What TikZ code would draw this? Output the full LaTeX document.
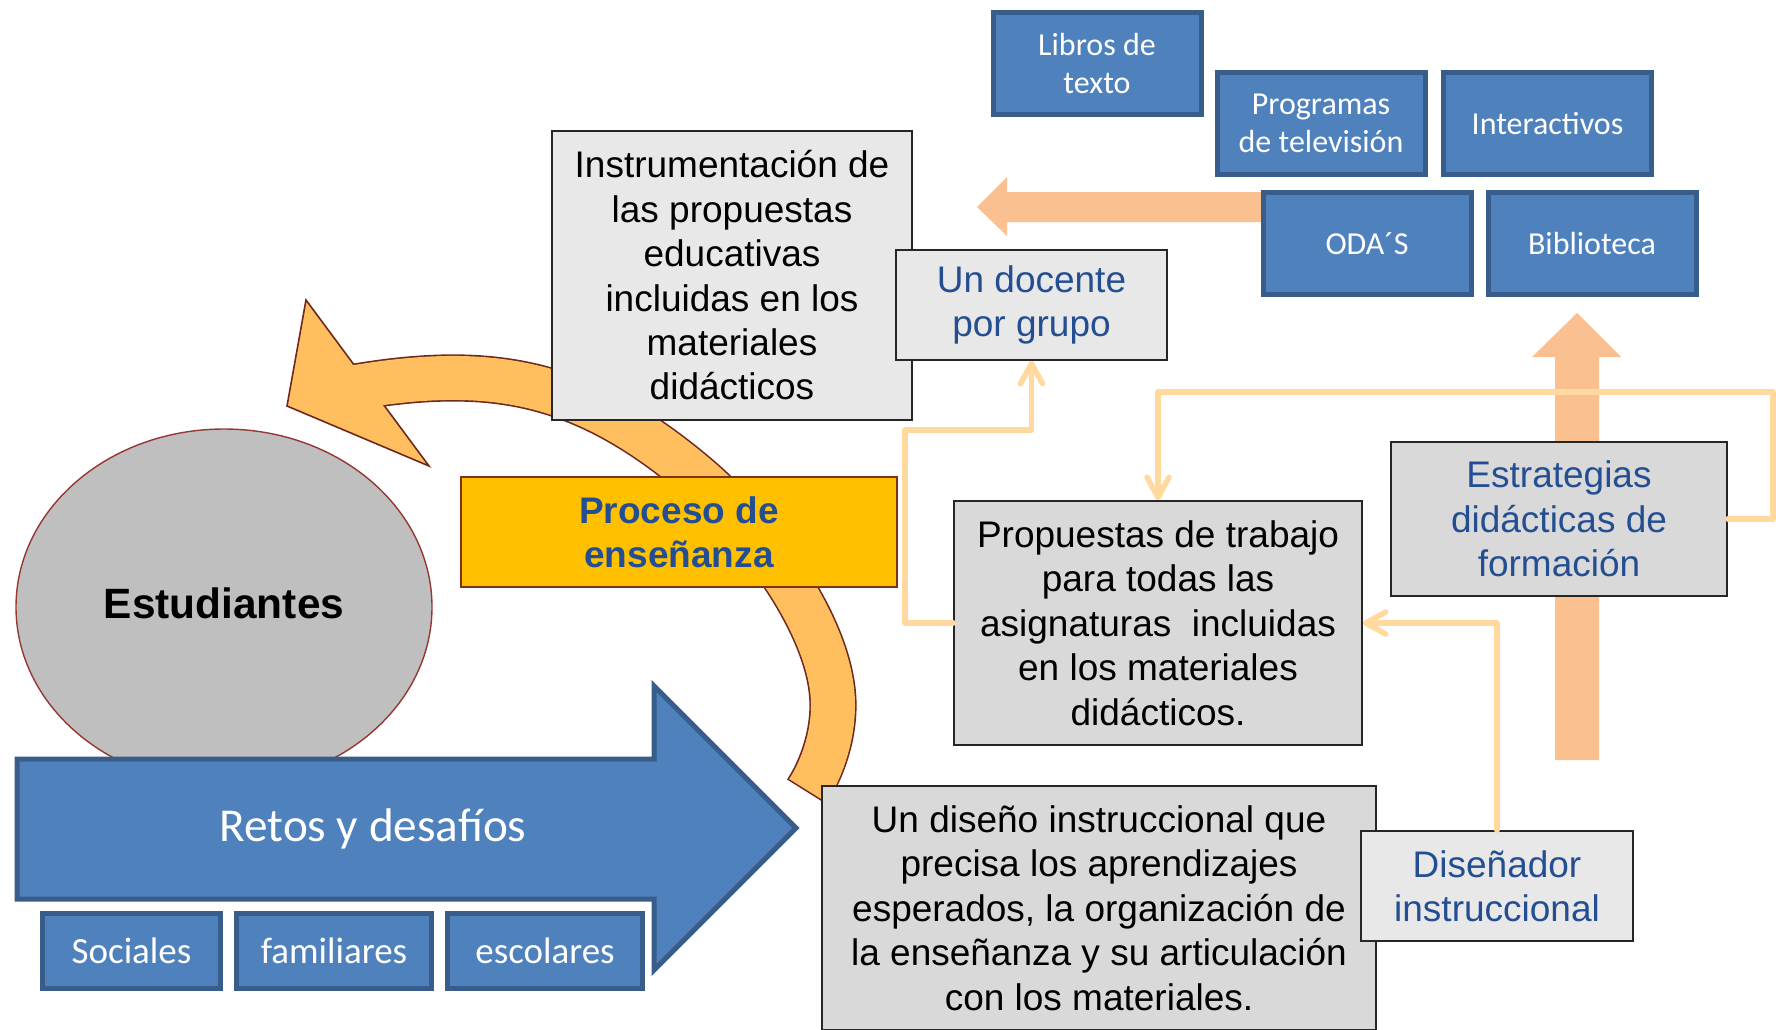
\documentclass[tikz,border=0pt]{standalone}
\usepackage{fontspec}
\setmainfont{Liberation Sans}
\newfontfamily\calibri{Carlito}
\usetikzlibrary{arrows.meta,shapes.geometric}
\definecolor{cBlueFill}{RGB}{79,129,189}
\definecolor{cBlueLine}{RGB}{56,93,138}
\definecolor{cGrayA}{RGB}{232,232,232}
\definecolor{cGrayB}{RGB}{217,217,217}
\definecolor{cTxtBlue}{RGB}{36,78,146}
\definecolor{cPeach}{RGB}{250,192,144}
\definecolor{cTan}{RGB}{255,217,158}
\definecolor{cArcFill}{RGB}{255,191,95}
\definecolor{cArcLine}{RGB}{110,40,30}
\definecolor{cGold}{RGB}{255,192,0}
\definecolor{cGoldLine}{RGB}{125,50,30}
\definecolor{cEllFill}{RGB}{191,191,191}
\definecolor{cEllLine}{RGB}{150,55,50}
\begin{document}
\begin{tikzpicture}[x=0.5pt,y=-0.5pt,
  graybox/.style={draw=black!85, line width=0.9pt, inner sep=0pt, align=center,
    font=\fontsize{18.5}{22.2}\selectfont},
  lightbox/.style={graybox, fill=cGrayA},
  darkbox/.style={graybox, fill=cGrayB},
  bluebox/.style={draw=cBlueLine, fill=cBlueFill, line width=2.5pt, inner sep=0pt,
    align=center, text=white, font=\calibri\fontsize{16}{18.7}\selectfont,
    minimum width=104pt, minimum height=51pt},
  smallblue/.style={draw=cBlueLine, fill=cBlueFill, line width=2.5pt, inner sep=0pt,
    align=center, text=white, font=\calibri\fontsize{18.5}{22}\selectfont,
    minimum height=37.5pt},
  link/.style={draw=cTan, line width=2.8pt, line cap=round, line join=round,
    -{Straight Barb[length=10pt,width=11pt,round]}}
]
\useasboundingbox (0,0) rectangle (1776,1029);

% Estudiantes ellipse
\node[ellipse, draw=cEllLine, fill=cEllFill, line width=0.7pt, minimum width=208pt,
  minimum height=178pt, inner sep=0pt] (est) at (224,607) {};
\node[font=\bfseries\fontsize{21.2}{25}\selectfont] (estt) at (224,603) {Estudiantes};

% curved arrow
\def\arcpath{(807,792) .. controls (820,772) and (833,740) .. (833,705)
  .. controls (833,630) and (760,530) .. (696,476)
  .. controls (581,379) and (489,364) .. (350,388)}
\draw[draw=cArcLine, line width=23.6pt] \arcpath;
\filldraw[fill=cArcFill, draw=cArcLine, line width=0.8pt, line join=miter]
  (306,300) -- (287,406) -- (429,466) -- cycle;
\draw[draw=cArcFill, line width=22pt, shorten <=0.8pt] \arcpath;

% Retos arrow
\draw[draw=cBlueLine, fill=cBlueFill, line width=2.5pt, line join=miter]
  (17,759) -- (654,759) -- (654,686) -- (796,828) -- (654,970) -- (654,899) -- (17,899) -- cycle;
\node[text=white, font=\calibri\fontsize{23.6}{28}\selectfont] (retos) at (373,829) {Retos y desafíos};
\node[smallblue, minimum width=89pt] (soc) at (131.5,951) {Sociales};
\node[smallblue, minimum width=97.5pt] (fam) at (334,951) {familiares};
\node[smallblue, minimum width=97.5pt] (esc) at (545,951) {escolares};

% gray boxes left
\node[lightbox, minimum width=180pt, minimum height=144.5pt] (inst) at (732,275.5)
  {Instrumentación de\\las propuestas\\educativas\\incluidas en los\\materiales\\didácticos};
\node[lightbox, text=cTxtBlue, minimum width=135.5pt, minimum height=55pt] (doc) at (1031.5,305)
  {Un docente\\por grupo};
\node[draw=cGoldLine, fill=cGold, line width=0.8pt, inner sep=0pt, align=center,
  text=cTxtBlue, font=\bfseries\fontsize{18.5}{22.2}\selectfont,
  minimum width=218pt, minimum height=55pt] (proc) at (679,532) {Proceso de\\enseñanza};
\node[darkbox, minimum width=277pt, minimum height=122pt] (dis) at (1099,908)
  {Un diseño instruccional que\\precisa los aprendizajes\\esperados, la organización de\\la enseñanza y su articulación\\con los materiales.};

% wide peach arrows
\fill[cPeach] (1300,192) -- (1007,192) -- (1007,177) -- (977,207) -- (1007,236) -- (1007,222) -- (1300,222) -- cycle;
\fill[cPeach] (1555,760) -- (1555,357) -- (1532,357) -- (1577,313) -- (1621,357) -- (1599,357) -- (1599,760) -- cycle;

% blue boxes
\node[bluebox] (lib) at (1097,63.5) {Libros de\\texto};
\node[bluebox] (prog) at (1321,123.5) {Programas\\de televisión};
\node[bluebox] (inter) at (1547.5,123.5) {Interactivos};
\node[bluebox] (oda) at (1367,243.5) {ODA´S};
\node[bluebox] (bib) at (1592,243.5) {Biblioteca};

% right gray boxes
\node[darkbox, text=cTxtBlue, minimum width=168pt, minimum height=77pt] (estr) at (1559,519)
  {Estrategias\\didácticas de\\formación};
\node[darkbox, minimum width=204pt, minimum height=122pt] (prop) at (1158,623)
  {Propuestas de trabajo\\para todas las\\asignaturas\ \ incluidas\\en los materiales\\didácticos.};
\node[lightbox, text=cTxtBlue, minimum width=136pt, minimum height=55pt] (dsn) at (1497,886)
  {Diseñador\\instruccional};

% connectors
\draw[link] (estr.east) -| (1773,392) -| (prop.north);
\draw[link] (prop.west) -| (905,430) -| (doc.south);
\draw[link] (dsn.north) |- (prop.east);
\end{tikzpicture}
\end{document}
